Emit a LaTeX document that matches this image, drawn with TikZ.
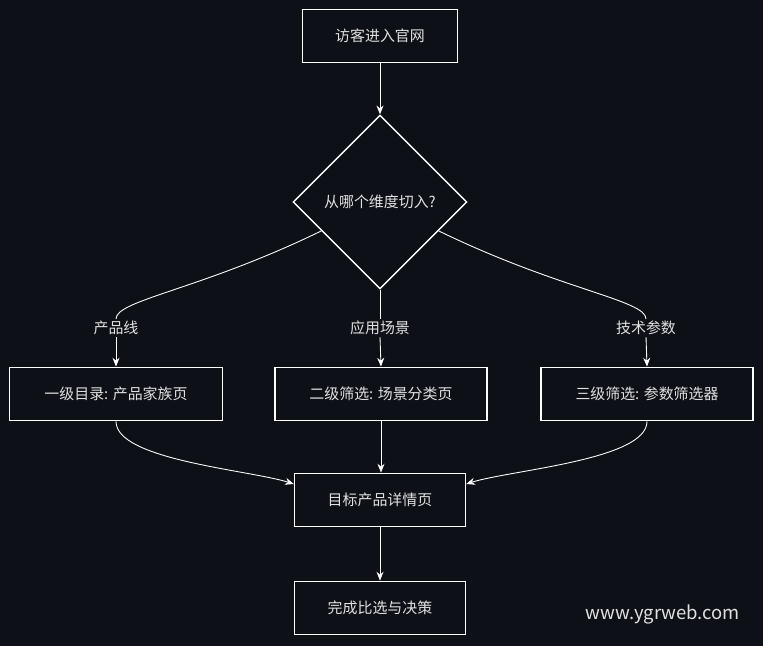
\documentclass[tikz,border=0pt]{standalone}
\usepackage{fontspec}
\setmainfont{Noto Sans CJK SC}
\usetikzlibrary{shapes.geometric,arrows.meta,calc}
\definecolor{bgcolor}{RGB}{13,16,22}
\definecolor{textcolor}{RGB}{225,225,225}
\tikzset{
  box/.style={draw=white,line width=0.8pt,minimum height=1.07cm,text=textcolor,font=\fontsize{8.5}{10}\selectfont},
  tag/.style={text=textcolor,font=\fontsize{8.5}{10}\selectfont,fill=bgcolor,inner sep=1pt},
  link/.style={draw=white,line width=0.5pt},
  arrow/.style={link,-{Stealth[length=5pt,width=4pt]}}
}
\begin{document}
\begin{tikzpicture}[x=0.02cm,y=-0.02cm]
  \fill[bgcolor](0,0) rectangle (763,646);
  \useasboundingbox (0,0) rectangle (763,646);
  % Entry
  \node at(380,36)[box,minimum width=3.1cm](visit){访客进入官网};
  \node at(380,202)[diamond,draw=white,line width=0.8pt,minimum width=3.48cm,minimum height=3.48cm,inner sep=0pt,text=textcolor,font=\fontsize{8.5}{10}\selectfont](choice){从哪个维度切入?};
  % Labels
  \node at(116,328)[tag](lline){产品线};
  \node at(380,328)[tag](lscene){应用场景};
  \node at(646,328)[tag](lparam){技术参数};
  % Levels
  \node at(116,394)[box,minimum width=4.26cm](family){一级目录: 产品家族页};
  \node at(381,394)[box,minimum width=4.24cm](scene){二级筛选: 场景分类页};
  \node at(647,394)[box,minimum width=4.24cm](filter){三级筛选: 参数筛选器};
  \node at(380,500)[box,minimum width=3.42cm](detail){目标产品详情页};
  \node at(380,608)[box,minimum width=3.42cm](decide){完成比选与决策};
  % Watermark
  \node at(663,614)[text=textcolor,font=\fontsize{10.5}{12}\selectfont](mark){www.ygrweb.com};
  % Connectors
  \coordinate (outl) at ($(choice.west)!0.33!(choice.south)$);
  \coordinate (outr) at ($(choice.east)!0.33!(choice.south)$);
  \draw[arrow](visit)--(choice);
  \draw[link](outl) .. controls (200,290) and (116,300) .. (lline.north);
  \draw[arrow](lline.south)--(family.north);
  \draw[link](choice.south)--(lscene.north);
  \draw[arrow](lscene.south)--(scene.north);
  \draw[link](outr) .. controls (560,290) and (646,300) .. (lparam.north);
  \draw[arrow](lparam.south)--(filter.north);
  \draw[arrow](family.south) .. controls (116,460) and (250,470) .. (detail.west |- 0,484);
  \draw[arrow](scene.south)--(detail.north -| scene.south);
  \draw[arrow](filter.south) .. controls (647,460) and (510,470) .. (detail.east |- 0,484);
  \draw[arrow](detail)--(decide);
\end{tikzpicture}
\end{document}
